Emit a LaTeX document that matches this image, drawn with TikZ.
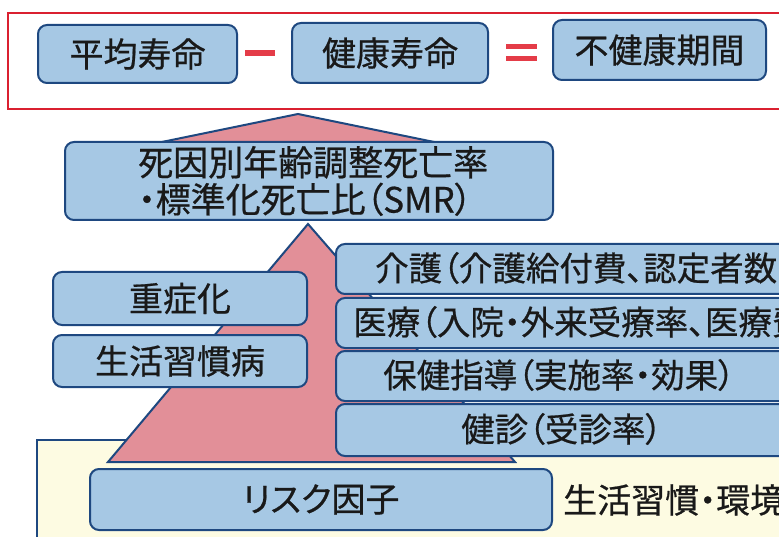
\documentclass[tikz,border=0pt]{standalone}
\usepackage{fontspec}
\setmainfont{Noto Sans CJK JP}[RawFeature=+palt, FakeBold=0.6]
\definecolor{boxfill}{RGB}{166,200,228}
\definecolor{boxline}{RGB}{30,72,128}
\definecolor{pinkfill}{RGB}{226,143,152}
\definecolor{redframe}{RGB}{218,32,48}
\definecolor{redsign}{RGB}{228,60,72}
\definecolor{bgyellow}{RGB}{253,251,226}
\definecolor{ink}{RGB}{25,25,25}
\begin{document}
\begin{tikzpicture}[x=1pt,y=-1pt,
  box/.style={draw=boxline, line width=2pt, fill=boxfill, rounded corners=9pt, inner sep=0pt, text=ink},
  lbl/.style={text=ink, inner sep=0pt, font=\fontsize{34pt}{38pt}\selectfont},
  rlbl/.style={text=ink, inner sep=0pt, font=\fontsize{33.5pt}{38pt}\selectfont},
  tri/.style={draw=boxline, line width=2pt, fill=pinkfill, line join=miter}]
\useasboundingbox (0,0) rectangle (779,537);
\clip (0,0) rectangle (779,537);
\fill[white] (0,0) rectangle (779,537);
% red frame
\draw[draw=redframe, line width=2.5pt] (8,13) rectangle (820,109);
% yellow background
\draw[draw=boxline, line width=2pt, fill=bgyellow] (37,440) rectangle (820,570);
% triangles
\draw[tri] (298,114) -- (157,143) -- (439,143) -- cycle;
\draw[tri] (308,224) -- (108,462) -- (515,462) -- cycle;
% top row
\node[box, lbl, minimum width=199pt, minimum height=58pt] (avg) at (137.5,54) {平均寿命};
\node[box, lbl, minimum width=196pt, minimum height=60pt] (hale) at (390,53) {健康寿命};
\node[box, lbl, minimum width=213pt, minimum height=60pt] (unh) at (659.5,50) {不健康期間};
\fill[redsign] (245,50) rectangle (275,56);
\fill[redsign] (506,44) rectangle (537,49.5);
\fill[redsign] (506,56) rectangle (537,61.5);
% mortality box
\node[box, minimum width=488pt, minimum height=78pt] (smr) at (309,181) {};
\node[text=ink, inner sep=0pt, anchor=west, align=left, font=\fontsize{35pt}{37pt}\selectfont] (smrT) at (138,181) {死因別年齢調整死亡率\\・標準化死亡比（SMR）};
% left boxes
\node[box, lbl, minimum width=254pt, minimum height=53pt] (sev) at (180,298.5) {重症化};
\node[box, lbl, minimum width=254pt, minimum height=52pt] (ncd) at (180,361) {生活習慣病};
% right boxes
\node[box, minimum width=485pt, minimum height=50pt, anchor=north west] (care) at (335,243) {};
\node[box, minimum width=485pt, minimum height=50pt, anchor=north west] (med) at (335,297) {};
\node[box, minimum width=485pt, minimum height=50pt, anchor=north west] (guid) at (335,350) {};
\node[box, minimum width=485pt, minimum height=52pt, anchor=north west] (chk) at (335,403) {};
\node[rlbl, anchor=west] (careT) at (375,268) {介護（介護給付費、認定者数};
\node[rlbl, anchor=west] (medT) at (353,322) {医療（入院・外来受療率、医療費};
\node[rlbl, anchor=west] (guidT) at (383,375) {保健指導（実施率・効果）};
\node[rlbl, anchor=west] (chkT) at (461,429) {健診（受診率）};
% bottom
\node[box, lbl, minimum width=462pt, minimum height=61pt] (risk) at (321,499.5) {リスク因子};
\node[lbl, anchor=west] (env) at (563,500) {生活習慣・環境};
\end{tikzpicture}
\end{document}
